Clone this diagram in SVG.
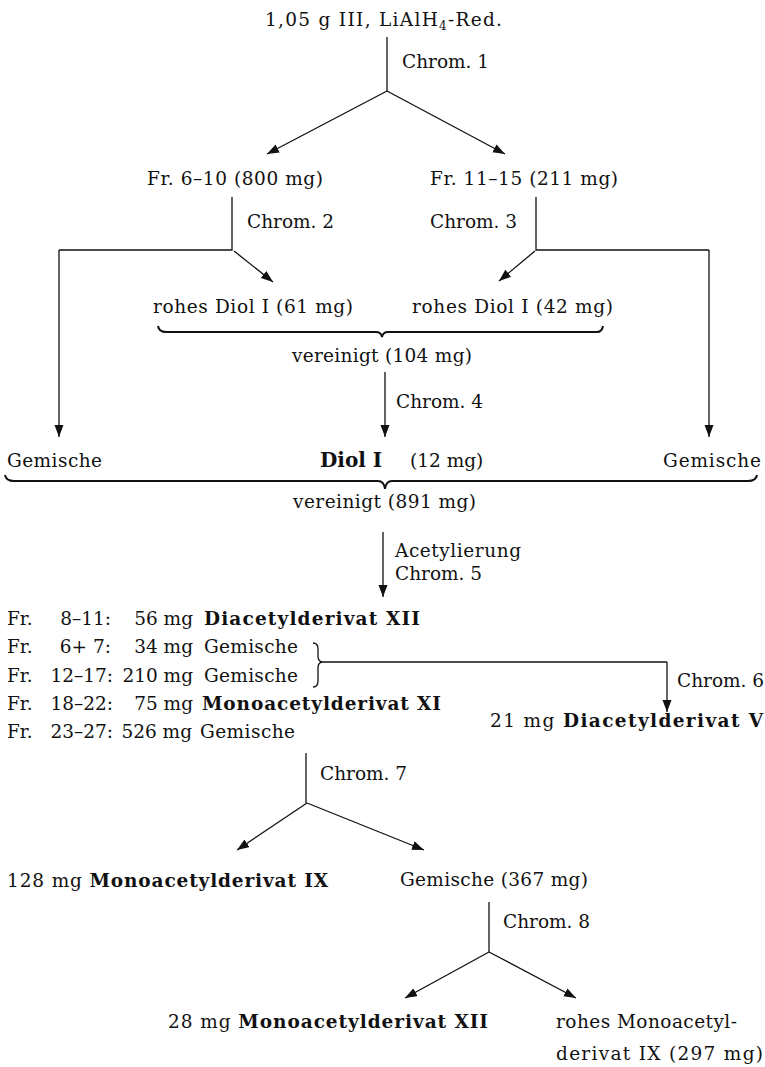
<svg xmlns="http://www.w3.org/2000/svg" width="765" height="1067" viewBox="0 0 765 1067">
<style>
text{font-family:"DejaVu Serif","Liberation Serif",serif;font-size:18.5px;fill:#111}
.b{font-weight:bold}
.e{text-anchor:end}
.ln{fill:none;stroke:#111;stroke-width:1.3}
.br{fill:none;stroke:#111;stroke-width:2}
.ar{fill:none;stroke:#111;stroke-width:1.3;marker-end:url(#ah)}
</style>
<defs>
<marker id="ah" markerUnits="userSpaceOnUse" markerWidth="13" markerHeight="10" refX="12" refY="4.5" orient="auto">
<path d="M0,0 L12,4.5 L0,9 Z" fill="#111"/>
</marker>
</defs>
<rect width="765" height="1067" fill="#fff"/>
<g id="connectors">
<line class="ln" x1="387" y1="37" x2="387" y2="91"/>
<line class="ar" x1="387" y1="91" x2="267" y2="154"/>
<line class="ar" x1="387" y1="91" x2="505" y2="154"/>
<path class="ln" d="M232,197 V250 H59"/>
<line class="ar" x1="59" y1="250" x2="59" y2="437"/>
<line class="ar" x1="234" y1="251" x2="273" y2="282"/>
<path class="ln" d="M536,197 V250 H709"/>
<line class="ar" x1="709" y1="250" x2="709" y2="437"/>
<line class="ar" x1="535" y1="251" x2="499" y2="281"/>
<path class="br" d="M158,326 Q159,332 166,332 L376,332 Q381,332 382,337 Q383,332 388,332 L597,332 Q602,332 603,326"/>
<line class="ar" x1="385" y1="372" x2="385" y2="437"/>
<path class="br" d="M5,475 Q6,481 14,481 L378,481 Q384,481 385,489 Q386,481 392,481 L748,481 Q756,481 757,475"/>
<line class="ar" x1="383" y1="532" x2="383" y2="597"/>
<path class="ln" d="M313,643 Q318,643 318,649 L318,656 Q318,662 323,662 Q318,662 318,668 L318,681 Q318,687 313,687"/>
<path class="ln" d="M323,662 H667"/>
<line class="ar" x1="667" y1="662" x2="667" y2="712"/>
<line class="ln" x1="306" y1="753" x2="306" y2="803"/>
<line class="ar" x1="307" y1="803" x2="237" y2="850"/>
<line class="ar" x1="307" y1="803" x2="424" y2="850"/>
<line class="ln" x1="489" y1="902" x2="489" y2="952"/>
<line class="ar" x1="489" y1="952" x2="405" y2="998"/>
<line class="ar" x1="489" y1="952" x2="576" y2="998"/>
</g>
<g id="labels">
<text x="402" y="68">Chrom. 1</text>
<text x="247" y="228">Chrom. 2</text>
<text x="430" y="228">Chrom. 3</text>
<text x="396" y="408">Chrom. 4</text>
<text x="395" y="557" textLength="126">Acetylierung</text>
<text x="395" y="580">Chrom. 5</text>
<text x="677" y="687">Chrom. 6</text>
<text x="320" y="780">Chrom. 7</text>
<text x="503" y="928">Chrom. 8</text>
</g>
<g id="n-start"><text x="265" y="26" textLength="237">1,05 g III, LiAlH<tspan font-size="12" dy="4">4</tspan><tspan dy="-4">-Red.</tspan></text></g>
<g id="n-fr6-10"><text x="147" y="185" textLength="176">Fr. 6–10 (800 mg)</text></g>
<g id="n-fr11-15"><text x="430" y="185" textLength="188">Fr. 11–15 (211 mg)</text></g>
<g id="n-diol61"><text x="153" y="313" textLength="200">rohes Diol I (61 mg)</text></g>
<g id="n-diol42"><text x="412" y="313" textLength="201">rohes Diol I (42 mg)</text></g>
<g id="n-ver104"><text x="292" y="362" textLength="180">vereinigt (104 mg)</text></g>
<g id="n-gem-left"><text x="7" y="467" textLength="95">Gemische</text></g>
<g id="n-diol"><text x="320" y="467" class="b" style="font-size:20px">Diol I</text><text x="410" y="467">(12 mg)</text></g>
<g id="n-gem-right"><text x="663" y="467" textLength="98">Gemische</text></g>
<g id="n-ver891"><text x="293" y="508" textLength="183">vereinigt (891 mg)</text></g>
<g id="n-fractions">
<text x="7" y="625">Fr.</text><text x="111" y="625" class="e">8–11:</text><text x="193" y="625" class="e">56 mg</text><text x="204" y="625" class="b" textLength="216">Diacetylderivat XII</text>
<text x="7" y="653">Fr.</text><text x="111" y="653" class="e">6+ 7:</text><text x="193" y="653" class="e">34 mg</text><text x="204" y="653" textLength="94">Gemische</text>
<text x="7" y="682">Fr.</text><text x="113" y="682" class="e">12–17:</text><text x="193" y="682" class="e">210 mg</text><text x="204" y="682" textLength="94">Gemische</text>
<text x="7" y="710">Fr.</text><text x="113" y="710" class="e">18–22:</text><text x="193" y="710" class="e">75 mg</text><text x="202" y="710" class="b" textLength="239">Monoacetylderivat XI</text>
<text x="7" y="738">Fr.</text><text x="113" y="738" class="e">23–27:</text><text x="192" y="738" class="e">526 mg</text><text x="200" y="738" textLength="95">Gemische</text>
</g>
<g id="n-diac-v"><text x="490" y="727" textLength="273">21 mg <tspan class="b">Diacetylderivat V</tspan></text></g>
<g id="n-mono-ix"><text x="7" y="887" textLength="321">128 mg <tspan class="b">Monoacetylderivat IX</tspan></text></g>
<g id="n-gem367"><text x="400" y="886" textLength="188">Gemische (367 mg)</text></g>
<g id="n-mono-xii"><text x="168" y="1028" textLength="320">28 mg <tspan class="b">Monoacetylderivat XII</tspan></text></g>
<g id="n-rohes-mono"><text x="556" y="1028" textLength="181">rohes Monoacetyl-</text><text x="556" y="1060" textLength="207">derivat IX (297 mg)</text></g>
</svg>
